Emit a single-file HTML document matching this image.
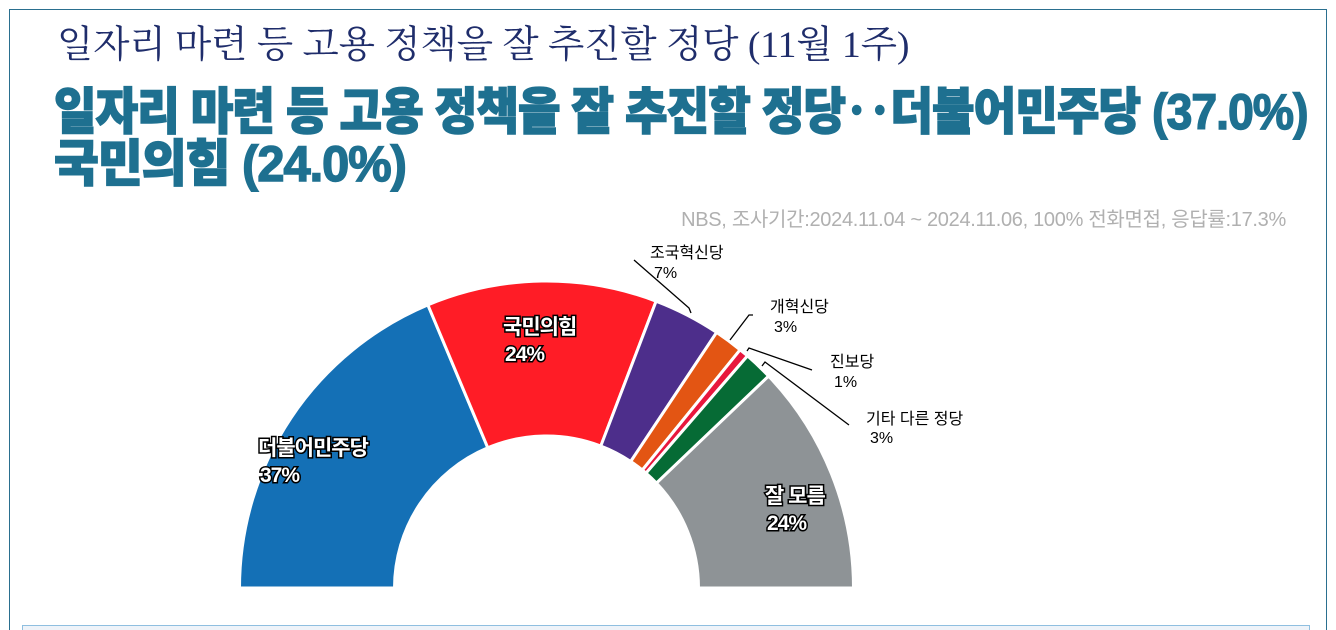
<!DOCTYPE html>
<html><head><meta charset="utf-8"><style>
html,body{margin:0;width:1336px;height:630px;overflow:hidden}
body{background:#fff;position:relative;font-family:"Liberation Sans","Noto Sans CJK KR",sans-serif}
.frame{position:absolute;left:9px;top:9px;width:1316px;height:640px;border:1px solid #2a6f8f}
.t1{position:absolute;left:57px;top:14px;font-family:"Liberation Serif","Noto Serif CJK SC",serif;font-size:37.5px;color:#1f2d6b;white-space:nowrap}
.t2{position:absolute;left:54px;font-family:"Liberation Sans","Noto Sans CJK KR",sans-serif;font-weight:900;font-size:50px;color:#1e7090;white-space:nowrap;transform-origin:0 0;letter-spacing:-1px;-webkit-text-stroke:1.5px #1e7090}
.sub{position:absolute;right:50px;top:203px;font-size:20px;color:#b0b0b0;white-space:nowrap;letter-spacing:-0.3px}
.bot{position:absolute;left:22px;top:625px;width:1286px;height:10px;background:#eef3f9;border-top:1px solid #8fbfe0;border-left:1px solid #8fbfe0;border-right:1px solid #8fbfe0}
</style></head><body>
<div class="frame"></div>
<div class="t1">일자리 마련 등 고용 정책을 잘 추진할 정당 (11월 1주)</div>
<div class="t2" style="top:72px;transform:scaleX(0.925)">일자리 마련 등 고용 정책을 잘 추진할 정당‥더불어민주당 (37.0%)</div>
<div class="t2" style="top:124px;transform:scaleX(0.975)">국민의힘 (24.0%)</div>
<div class="sub">NBS, 조사기간:2024.11.04 ~ 2024.11.06, 100% 전화면접, 응답률:17.3%</div>
<svg width="1336" height="630" style="position:absolute;left:0;top:0">
<g stroke="#fff" stroke-width="3" stroke-linejoin="round">
<path fill="#1470b6" d="M239.5,588 A307,307 0 0 1 427.9,304.9 L487.8,447.8 A152,152 0 0 0 394.5,588 Z"/>
<path fill="#ff1c26" d="M427.9,304.9 A307,307 0 0 1 656.1,301.2 L600.8,446.0 A152,152 0 0 0 487.8,447.8 Z"/>
<path fill="#4d2e8b" d="M656.1,301.2 A307,307 0 0 1 716.6,332.4 L630.7,461.5 A152,152 0 0 0 600.8,446.0 Z"/>
<path fill="#e35513" d="M716.6,332.4 A307,307 0 0 1 740.1,349.8 L642.4,470.0 A152,152 0 0 0 630.7,461.5 Z"/>
<path fill="#e8173d" d="M740.1,349.8 A307,307 0 0 1 747.5,355.9 L646.0,473.1 A152,152 0 0 0 642.4,470.0 Z"/>
<path fill="#066b35" d="M747.5,355.9 A307,307 0 0 1 768.6,376.1 L656.5,483.1 A152,152 0 0 0 646.0,473.1 Z"/>
<path fill="#8e9396" d="M768.6,376.1 A307,307 0 0 1 853.5,588 L698.5,588 A152,152 0 0 0 656.5,483.1 Z"/>
</g>
<g stroke="#000" stroke-width="1.3" fill="none">
<polyline points="634,260 689,308 691,313"/>
<polyline points="753,315 749,315 730,340"/>
<polyline points="812,370 749,348 747,351"/>
<polyline points="849,425 765,362 762,366"/>
</g>
<g font-size="16" fill="#000">
<text x="650" y="258">조국혁신당</text><text x="654" y="278">7%</text>
<text x="770" y="312">개혁신당</text><text x="774" y="332">3%</text>
<text x="830" y="367">진보당</text><text x="834" y="387">1%</text>
<text x="866" y="424">기타 다른 정당</text><text x="870" y="443">3%</text>
</g>
<g font-size="21" font-weight="bold" fill="#fff" stroke="#000" stroke-width="3" paint-order="stroke" letter-spacing="-1">
<text x="258" y="455">더불어민주당</text><text x="260" y="482">37%</text>
<text x="503" y="334">국민의힘</text><text x="505" y="361">24%</text>
<text x="765" y="503">잘 모름</text><text x="767" y="530">24%</text>
</g>
</svg>
<div class="bot"></div>
</body></html>
